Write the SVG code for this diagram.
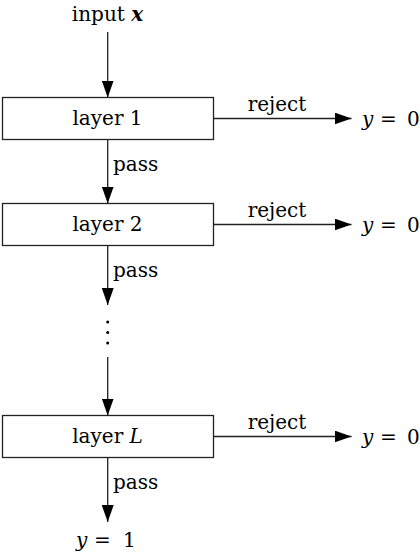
<svg xmlns="http://www.w3.org/2000/svg" width="420" height="554" viewBox="0 0 420 554">
<style>
text{font-family:'DejaVu Serif','Liberation Serif',serif;font-size:20px;fill:#000}
.box{fill:#fff;stroke:#222;stroke-width:1.3}
.ln{stroke:#222;stroke-width:1.3;fill:none;marker-end:url(#ah)}
.m{text-anchor:middle}
.i{font-style:italic}
</style>
<defs>
<marker id="ah" viewBox="0 0 17 12" refX="17" refY="6" markerWidth="17" markerHeight="12" markerUnits="userSpaceOnUse" orient="auto">
<path d="M0,0 L17,6 L0,12 z" fill="#000"/>
</marker>
</defs>
<g id="input"><text class="m" x="107.5" y="21">input <tspan font-weight="bold" font-style="italic">x</tspan></text></g>
<g id="layer1"><rect class="box" x="2.5" y="97.5" width="211" height="42"/><text class="m" x="107.5" y="125">layer 1</text></g>
<g id="layer2"><rect class="box" x="2.5" y="203.5" width="211" height="42"/><text class="m" x="107.5" y="231">layer 2</text></g>
<g id="layerL"><rect class="box" x="2.5" y="415.5" width="211" height="42"/><text class="m" x="107.5" y="443">layer <tspan class="i">L</tspan></text></g>
<g id="out1"><text x="362" y="125.5"><tspan class="i">y</tspan><tspan x="380">=</tspan><tspan x="407">0</tspan></text></g>
<g id="out2"><text x="362" y="231.5"><tspan class="i">y</tspan><tspan x="380">=</tspan><tspan x="407">0</tspan></text></g>
<g id="outL"><text x="362" y="443.5"><tspan class="i">y</tspan><tspan x="380">=</tspan><tspan x="407">0</tspan></text></g>
<g id="final"><text x="76" y="547"><tspan class="i">y</tspan><tspan x="94">=</tspan><tspan x="123">1</tspan></text></g>
<g id="dots" fill="#000"><circle cx="107.7" cy="322" r="1.5"/><circle cx="107.7" cy="332.5" r="1.5"/><circle cx="107.7" cy="343" r="1.5"/></g>
<g id="connectors">
<line class="ln" x1="107.7" y1="32" x2="107.7" y2="97.5"/>
<line class="ln" x1="107.7" y1="139.5" x2="107.7" y2="203.5"/>
<line class="ln" x1="107.7" y1="245.5" x2="107.7" y2="305"/>
<line class="ln" x1="107.7" y1="357" x2="107.7" y2="415.5"/>
<line class="ln" x1="107.7" y1="457.5" x2="107.7" y2="522"/>
<line class="ln" x1="213.5" y1="118.5" x2="351.5" y2="118.5"/>
<line class="ln" x1="213.5" y1="224.5" x2="351.5" y2="224.5"/>
<line class="ln" x1="213.5" y1="436.5" x2="351.5" y2="436.5"/>
<text x="113" y="170.5">pass</text>
<text x="113" y="276.5">pass</text>
<text x="113" y="488.5">pass</text>
<text class="m" x="277" y="110.5">reject</text>
<text class="m" x="277" y="216.5">reject</text>
<text class="m" x="277" y="428.5">reject</text>
</g>
</svg>
